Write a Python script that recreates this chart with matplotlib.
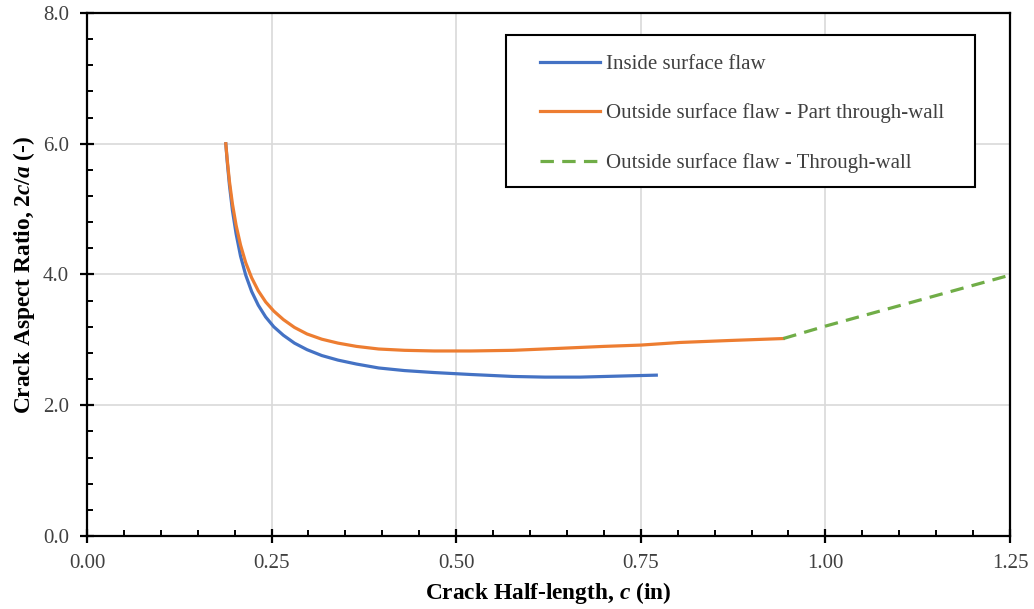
import matplotlib
matplotlib.use('Agg')
import matplotlib.pyplot as plt
from matplotlib.patches import Rectangle
from matplotlib.ticker import MultipleLocator, FormatStrFormatter

plt.rcParams['font.family'] = 'Liberation Serif'
plt.rcParams['mathtext.fontset'] = 'custom'
plt.rcParams['mathtext.it'] = 'Liberation Serif:bold:italic'
plt.rcParams['mathtext.rm'] = 'Liberation Serif:bold'

# Inside surface flaw
inside_c = [0.188, 0.190, 0.193, 0.197, 0.202, 0.208, 0.215, 0.223, 0.232, 0.242,
            0.253, 0.266, 0.281, 0.298, 0.318, 0.340, 0.365, 0.395, 0.430, 0.470,
            0.520, 0.577, 0.620, 0.668, 0.735, 0.771]
inside_ar = [6.00, 5.72, 5.36, 4.98, 4.62, 4.28, 3.99, 3.74, 3.53, 3.35,
             3.20, 3.07, 2.95, 2.85, 2.76, 2.69, 2.63, 2.57, 2.53, 2.50,
             2.47, 2.44, 2.43, 2.43, 2.45, 2.46]

# Outside surface flaw - part through-wall
outside_c = [0.188, 0.190, 0.193, 0.197, 0.202, 0.208, 0.215, 0.223, 0.232, 0.242,
             0.253, 0.266, 0.281, 0.298, 0.318, 0.340, 0.365, 0.395, 0.430, 0.470,
             0.520, 0.577, 0.640, 0.700, 0.750, 0.803, 0.870, 0.943]
outside_ar = [6.00, 5.75, 5.42, 5.08, 4.75, 4.45, 4.18, 3.95, 3.75, 3.58,
              3.44, 3.31, 3.19, 3.09, 3.01, 2.95, 2.90, 2.86, 2.84, 2.83,
              2.83, 2.84, 2.87, 2.90, 2.92, 2.96, 2.99, 3.02]

# Outside surface flaw - through-wall
tw_c = [0.943, 1.000, 1.125, 1.250]
tw_ar = [3.02, 3.21, 3.60, 3.99]

fig = plt.figure(figsize=(10.34, 6.09), dpi=100)
ax = fig.add_axes([0.0841, 0.1199, 0.8927, 0.8588])

ax.plot(inside_c, inside_ar, color='#4472C4', lw=2.3, label='Inside surface flaw')
ax.plot(outside_c, outside_ar, color='#ED7D31', lw=2.3,
        label='Outside surface flaw - Part through-wall')
ax.plot(tw_c, tw_ar, color='#70AD47', lw=2.3, ls=(0, (4.2, 2.6)),
        label='Outside surface flaw - Through-wall')

ax.set_xlim(0, 1.25)
ax.set_ylim(0, 8)
ax.xaxis.set_major_locator(MultipleLocator(0.25))
ax.xaxis.set_minor_locator(MultipleLocator(0.05))
ax.yaxis.set_major_locator(MultipleLocator(2.0))
ax.yaxis.set_minor_locator(MultipleLocator(0.4))
ax.xaxis.set_major_formatter(FormatStrFormatter('%.2f'))
ax.yaxis.set_major_formatter(FormatStrFormatter('%.1f'))

ax.grid(True, which='major', color='#D9D9D9', lw=1.2)
ax.set_axisbelow(True)
for s in ax.spines.values():
    s.set_linewidth(1.6)
    s.set_color('black')

ax.tick_params(which='major', direction='inout', length=10, width=1.6,
               labelsize=15, labelcolor='#404040', pad=8)
ax.tick_params(which='minor', direction='in', length=4, width=1.4)
ax.tick_params(top=False, right=False, which='both')

ax.set_xlabel('Crack Half-length, $c$ (in)', fontsize=16.8, fontweight='bold', labelpad=5)
ax.set_ylabel('Crack Aspect Ratio, $\\mathit{2c/a}$ (-)', fontsize=16.8,
              fontweight='bold', labelpad=4)

# legend box drawn separately so its padding matches the original
ax.add_patch(Rectangle((0.454, 0.667), 0.508, 0.291, transform=ax.transAxes,
                       facecolor='white', edgecolor='black', lw=1.5, zorder=4))
leg = ax.legend(loc='upper left', bbox_to_anchor=(0.4908, 0.921), fontsize=15,
                handlelength=2.9, handletextpad=0.29, labelspacing=1.42,
                borderpad=0, borderaxespad=0, frameon=False)
leg.set_zorder(5)
for t in leg.get_texts():
    t.set_color('#404040')

fig.savefig('out.png', dpi=100)
